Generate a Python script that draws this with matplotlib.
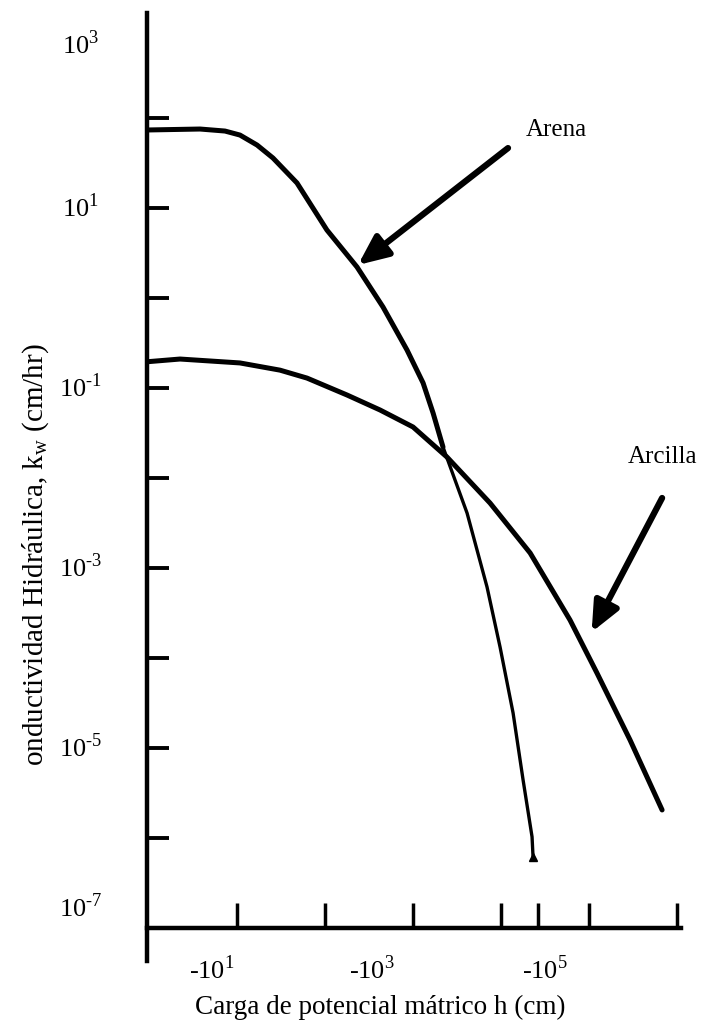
import matplotlib
matplotlib.use("Agg")
import matplotlib.pyplot as plt
import numpy as np

plt.rcParams['font.family'] = ['Liberation Serif', 'DejaVu Serif']
plt.rcParams['mathtext.fontset'] = 'custom'
plt.rcParams['mathtext.rm'] = 'Liberation Serif'

# curves (h in cm, k in cm/hr)
arena_h = [-0.9, -3.8, -7.3, -10.8, -16.9, -25.6, -48, -105, -231, -456, -855, -1300,
           -1690, -2190, -4110, -6930, -9750, -13700, -17800, -22500, -23100]
arena_k = [73.6, 75.5, 71.7, 64.7, 50.1, 36.0, 19.0, 5.70, 2.21, 0.794, 0.264, 0.114,
           0.0527, 0.0221, 0.00408, 6.15e-4, 1.32e-4, 2.45e-5, 4.41e-6, 1.03e-6, 6.15e-7]

arcilla_h = [-0.9, -2.25, -10.8, -30.8, -62.4, -178, -422, -1000, -2430, -7500,
             -21400, -60800, -123000, -292000, -676000]
arcilla_k = [0.195, 0.21, 0.19, 0.158, 0.129, 0.0836, 0.057, 0.0369, 0.0171,
             0.00527, 0.00147, 2.64e-4, 6.81e-5, 1.23e-5, 2.05e-6]

y_label_exp = ['3', '1', '-1', '-3', '-5', '-7']
x_label_exp = ['1', '3', '5']
x_tick_h = [-10, -100, -1000, -10000, -26300, -100000, -1000000]

fig = plt.figure(figsize=(7.05, 10.25), dpi=100)
ax = fig.add_axes([0.2085, 0.0624, 0.7575, 0.9249])
ax.set_xscale('log')
ax.set_yscale('log')
ax.set_xlim(10 ** -0.023, 10 ** 6.045)
ax.set_ylim(10 ** -7.367, 10 ** 3.167)

for s in ['top', 'right']:
    ax.spines[s].set_visible(False)
ax.spines['bottom'].set_position(('data', 1e-7))
ax.spines['left'].set_linewidth(3.2)
ax.spines['bottom'].set_linewidth(3.2)

ax.set_yticks([10.0 ** e for e in range(-6, 3)])
ax.set_yticks([], minor=True)
ax.set_xticks([-h for h in x_tick_h])
ax.set_xticks([], minor=True)
ax.tick_params(axis='y', direction='in', length=16, width=2.8, labelleft=False)
ax.tick_params(axis='x', direction='in', length=18, width=2.5, labelbottom=False)

# tick labels placed by hand like in the scan
y_nudge = {'3': -12, '-7': 15}
for e in y_label_exp:
    ax.annotate('10$^{\\text{%s}}$' % e, xy=(0, 10.0 ** int(e)), xycoords=('axes fraction', 'data'),
                xytext=(-48, y_nudge.get(e, 0)), textcoords='offset points',
                ha='center', va='center', fontsize=19)
x_nudge = {'1': -18, '3': -29.5, '5': -32}
for e in x_label_exp:
    ax.annotate('-10$^{\\text{%s}}$' % e, xy=(10.0 ** int(e), 1e-7), xycoords='data',
                xytext=(x_nudge[e], -30), textcoords='offset points',
                ha='center', va='center', fontsize=19)

fig.text(0.539, 0.017, 'Carga de potencial mátrico h (cm)', ha='center', va='center', fontsize=19.5)
fig.text(0.05, 0.4585, 'onductividad Hidráulica, k$_{\\mathregular{w}}$ (cm/hr)',
         rotation=90, ha='center', va='center', fontsize=21)

ah = -np.array(arena_h)
ak = np.array(arena_k)
cut = 14
line = dict(color='black', solid_capstyle='round', solid_joinstyle='round')
ax.plot(ah[:cut], ak[:cut], lw=3.6, **line)
ax.plot(ah[cut - 1:], ak[cut - 1:], lw=2.4, **line)
ax.plot(ah[-1], ak[-1], marker='^', color='black', ms=6)
ax.plot(-np.array(arcilla_h), arcilla_k, lw=3.6, **line)

arrow = dict(arrowstyle='-|>,head_length=0.9,head_width=0.4', lw=4.5, color='black',
             mutation_scale=20, shrinkA=0, shrinkB=0)
ax.annotate('', xy=(237, 2.33), xytext=(12000, 46.4), arrowprops=arrow)
ax.annotate('', xy=(107000, 1.94e-4), xytext=(676000, 0.006), arrowprops=arrow)
ax.text(42200, 73.6, 'Arena', fontsize=18, ha='center', va='center')
ax.text(692000, 0.0171, 'Arcilla', fontsize=18, ha='center', va='center')

fig.savefig('out.png', dpi=100)
